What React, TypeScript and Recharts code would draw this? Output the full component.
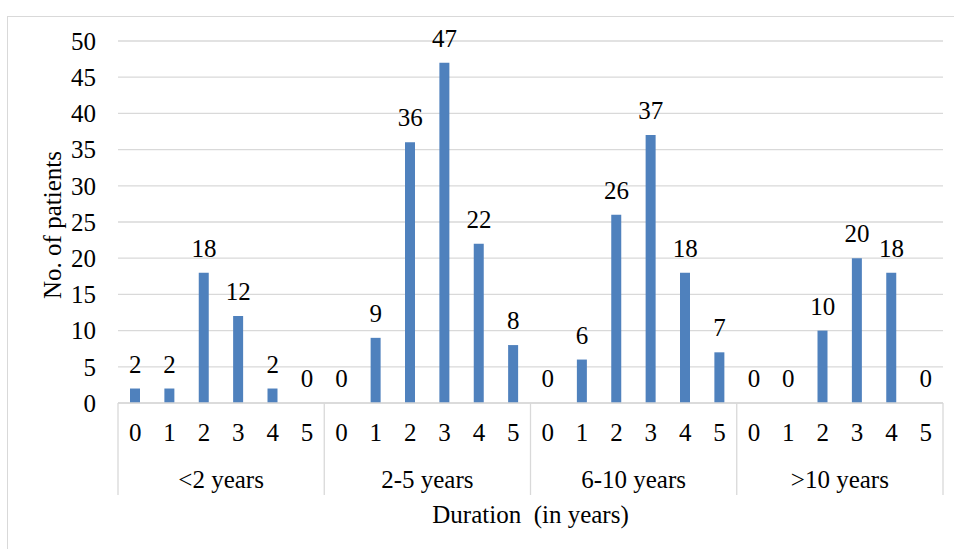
import React from "react";
import {
  ComposedChart,
  Bar,
  Line,
  XAxis,
  YAxis,
  CartesianGrid,
  LabelList,
  Label,
} from "recharts";

// Duration groups and the per-group sub categories (0..5)
const GROUPS = ["<2 years", "2-5 years", "6-10 years", ">10 years"];
const SUB_LABELS = ["0", "1", "2", "3", "4", "5"];

// No. of patients for each group, indexed by sub category
const UNDER_2 = [2, 2, 18, 12, 2, 0];
const FROM_2_TO_5 = [0, 9, 36, 47, 22, 8];
const FROM_6_TO_10 = [0, 6, 26, 37, 18, 7];
const OVER_10 = [0, 0, 10, 20, 18, 0];

const Y_TICKS = [0, 5, 10, 15, 20, 25, 30, 35, 40, 45, 50];

const SERIES = [UNDER_2, FROM_2_TO_5, FROM_6_TO_10, OVER_10];

const data = GROUPS.flatMap((group, g) =>
  SUB_LABELS.map((sub, s) => ({
    id: `${g}|${s}`,
    group,
    sub,
    patients: SERIES[g][s],
  }))
);

const W = 954;
const H = 549;
const MARGIN = { top: 41, right: 11, bottom: 0, left: 0 };
const Y_AXIS_W = 118;
const X_AXIS_H = 146;
const PLOT_W = W - MARGIN.left - MARGIN.right - Y_AXIS_W;
const BAND = PLOT_W / data.length;

const FONT = "Liberation Serif, Tinos, DejaVu Serif, serif";
const GRID = "#d9d9d9";
const BAR = "#4f81bd";
const TEXT = "#000";
const txt = { fontFamily: FONT, fontSize: 25, fill: TEXT };

function DurationTick(props: any) {
  const { x, y, payload } = props;
  const [g, s] = String(payload.value).split("|").map(Number);
  const i = g * SUB_LABELS.length + s;
  const perGroup = SUB_LABELS.length;
  return (
    <g>
      <text x={x} y={y + 38} textAnchor="middle" style={txt}>
        {SUB_LABELS[s]}
      </text>
      {s === 0 && (
        <line x1={x - BAND / 2} x2={x - BAND / 2} y1={y} y2={y + 92} stroke={GRID} strokeWidth={1.3} />
      )}
      {i === data.length - 1 && (
        <line x1={x + BAND / 2} x2={x + BAND / 2} y1={y} y2={y + 92} stroke={GRID} strokeWidth={1.3} />
      )}
      {s === perGroup / 2 - 1 && (
        <text x={x + BAND / 2} y={y + 85} textAnchor="middle" style={txt}>
          {GROUPS[g]}
        </text>
      )}
      {i === data.length / 2 - 1 && (
        <text
          x={x + BAND / 2}
          y={y + 120}
          textAnchor="middle"
          style={{ ...txt, whiteSpace: "pre" }}
        >
          {"Duration  (in years)"}
        </text>
      )}
    </g>
  );
}

export default function App() {
  return (
    <div
      style={{
        position: "relative",
        width: W,
        height: H,
        overflow: "hidden",
        background: "#fff",
      }}
    >
      <style>{"body{margin:0}"}</style>
      <div
        style={{
          position: "absolute",
          left: 7,
          top: 16,
          width: W + 40,
          height: H + 40,
          border: `1.5px solid ${GRID}`,
          boxSizing: "border-box",
        }}
      />
      <div style={{ position: "absolute", left: 0, top: 0 }}>
        <ComposedChart width={W} height={H} data={data} margin={MARGIN}>
          <CartesianGrid vertical={false} stroke={GRID} strokeWidth={1.3} />
          <XAxis
            dataKey="id"
            interval={0}
            height={X_AXIS_H}
            tickSize={0}
            tickMargin={0}
            tickLine={false}
            axisLine={{ stroke: GRID, strokeWidth: 1.3 }}
            tick={<DurationTick />}
          />
          <YAxis
            type="number"
            domain={[0, 50]}
            ticks={Y_TICKS}
            width={Y_AXIS_W}
            tickSize={0}
            tickMargin={22}
            axisLine={false}
            tickLine={false}
            tick={{ fontSize: 25, fontFamily: FONT, fill: TEXT }}
          >
            <Label
              content={() => (
                <text
                  x={52}
                  y={225}
                  transform="rotate(-90, 52, 225)"
                  textAnchor="middle"
                  dominantBaseline="central"
                  style={txt}
                >
                  No. of patients
                </text>
              )}
            />
          </YAxis>
          <Bar dataKey="patients" fill={BAR} barSize={10} isAnimationActive={false} />
          {/* invisible carrier for the value labels, so zero values get a label too */}
          <Line
            dataKey="patients"
            stroke="none"
            dot={false}
            activeDot={false}
            legendType="none"
            isAnimationActive={false}
          >
            <LabelList
              dataKey="patients"
              position="top"
              offset={16}
              fontSize={25}
              fontFamily={FONT}
              fill={TEXT}
            />
          </Line>
        </ComposedChart>
      </div>
    </div>
  );
}
